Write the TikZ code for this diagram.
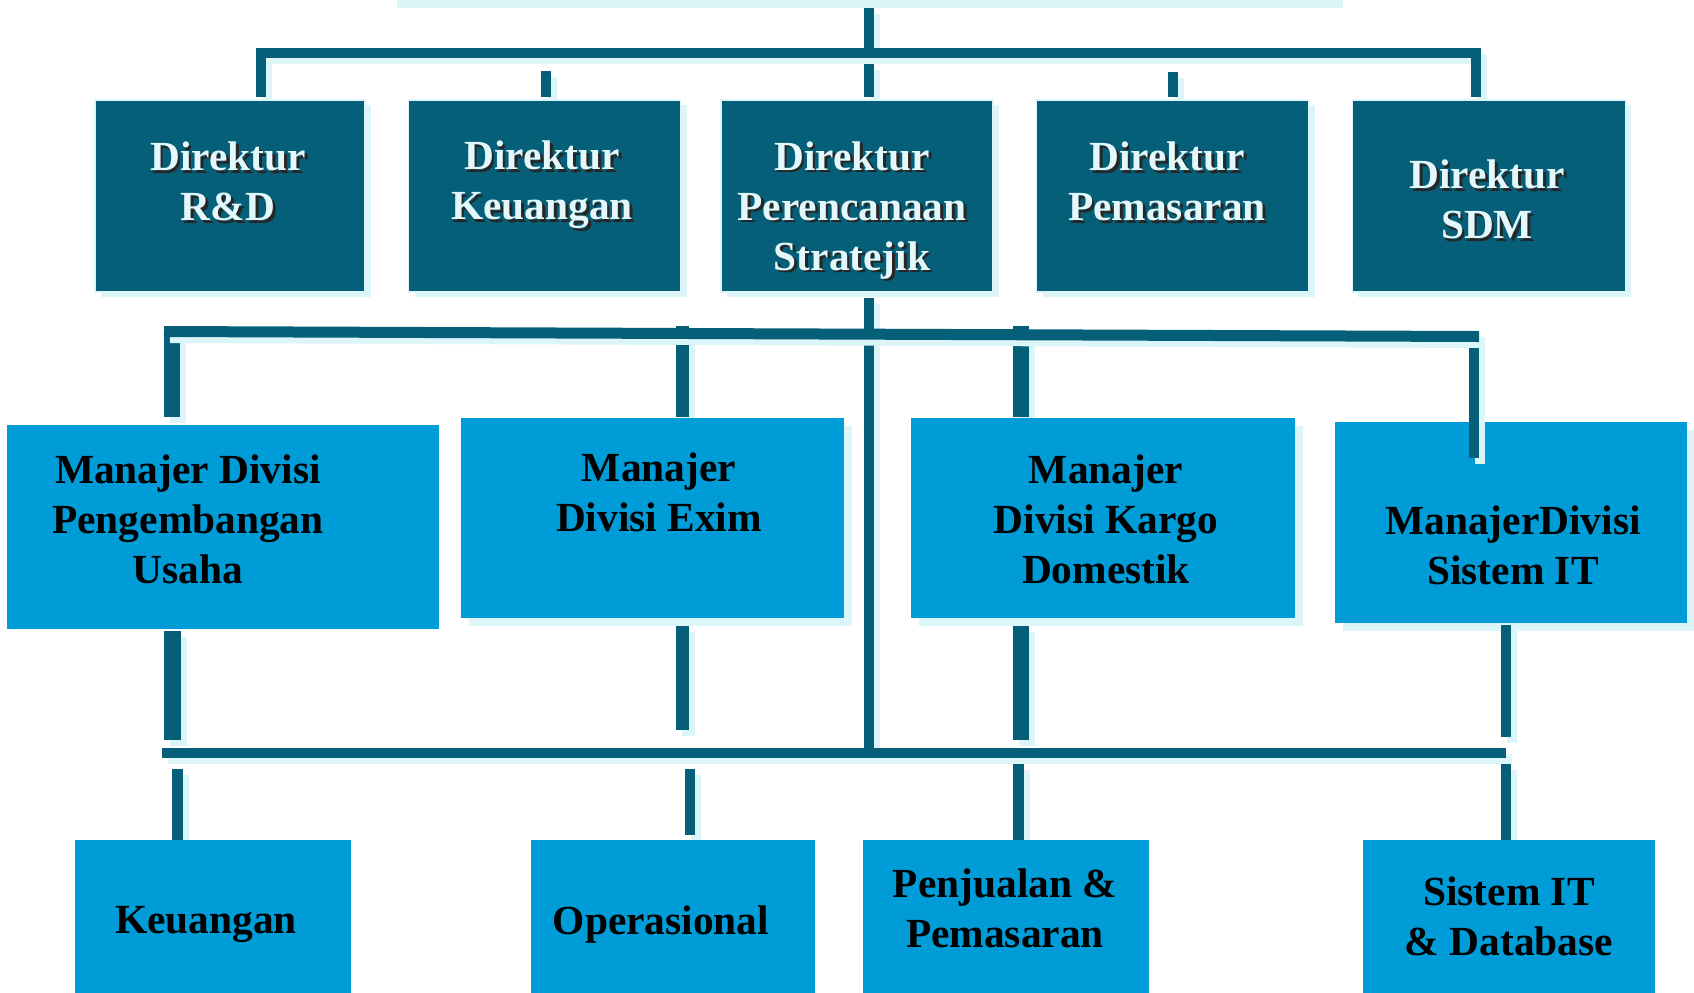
\documentclass[tikz,border=0pt]{standalone}
\usepackage{fontspec}
\setmainfont{Liberation Serif}
\usetikzlibrary{shadows}
\definecolor{dteal}{HTML}{055F79}
\definecolor{bblue}{HTML}{009CD7}
\definecolor{lcyan}{HTML}{DCF5F8}
\definecolor{ltext}{HTML}{E2F8FB}
\newcommand\shl[1]{\leavevmode\rlap{\kern1.4pt\raisebox{-1.4pt}{\color{black!85}#1}}#1}
\tikzset{
  wire/.style={draw=dteal, line width=#1, line cap=butt,
    preaction={draw=lcyan, line width=#1, transform canvas={shift={(3pt,-3pt)}}}},
  wire/.default=5pt,
  dirbox/.style={rectangle, inner sep=0pt, fill=dteal, draw=lcyan, line width=0.7pt,
    minimum height=96pt,
    drop shadow={shadow xshift=3pt, shadow yshift=-2.5pt, fill=lcyan, opacity=1}},
  mgrbox/.style={rectangle, inner sep=0pt, fill=bblue, draw=none},
  mgrshadow/.style={mgrbox, drop shadow={shadow xshift=4pt, shadow yshift=-4pt, fill=lcyan, opacity=1}},
  dirtext/.style={align=center, text=ltext, inner sep=0pt,
    font=\fontsize{20.7}{25}\selectfont\bfseries},
  blktext/.style={align=center, text=black, inner sep=0pt,
    font=\fontsize{20.7}{25}\selectfont\bfseries},
}
\begin{document}
\begin{tikzpicture}[x=0.5pt, y=-0.5pt]
\useasboundingbox (0,0) rectangle (1694,992);
\clip (0,0) rectangle (1694,992);

% remnant of top box
\fill[lcyan] (397,0) rectangle (1343,8);

% manager Sistem IT (its connector enters the box)
\node[mgrshadow, minimum width=176pt, minimum height=100.5pt] (m4) at (1511,522.5) {};

% ---- level 1 connectors
\coordinate (top) at (869,8);
\coordinate (bar1m) at (869,48);
\draw[wire] (top) -- (bar1m);
\coordinate (bar1l) at (260.5,97);
\coordinate (bar1r) at (1476,97);
\draw[wire, line join=miter] (bar1l) -- (260.5,52.5) -- (1476,52.5) -- (bar1r);
\draw[wire] (546,71) -- (546,97);
\draw[wire] (869,64) -- (869,97);
\draw[wire] (1172.5,72) -- (1172.5,97);

% ---- level 2 connectors
\draw[wire] (869,298) -- (869,748);
\draw[wire=8pt] (172,326) -- (172,417);
\draw[wire=6.5pt] (682.5,326) -- (682.5,417);
\draw[wire=8pt] (1021,326) -- (1021,417);
\draw[wire] (1474,331) -- (1474,458);
\coordinate (bar2l) at (164,331.5);
\coordinate (bar2r) at (1479,336.5);
\draw[wire=5.5pt] (bar2l) -- (bar2r);

% ---- level 3 connectors
\draw[wire=8.5pt] (172.5,631) -- (172.5,740);
\draw[wire=6.5pt] (682.5,626) -- (682.5,730);
\draw[wire=8pt] (1021,626) -- (1021,740);
\draw[wire] (1505.5,625) -- (1505.5,737);
\coordinate (bar3l) at (161.5,753);
\coordinate (bar3r) at (1505.5,753);
\draw[wire] (bar3l) -- (bar3r);
\draw[wire=5.5pt] (177.5,769) -- (177.5,840);
\draw[wire] (690,769) -- (690,835);
\draw[wire=5.5pt] (1018,764) -- (1018,840);
\draw[wire] (1505.5,764) -- (1505.5,840);

% ---- director boxes
\node[dirbox, minimum width=135pt] (d1) at (230,196) {};
\node[dirbox, minimum width=136pt] (d2) at (544.5,196) {};
\node[dirbox, minimum width=136pt] (d3) at (857,196) {};
\node[dirbox, minimum width=136pt] (d4) at (1172.7,196) {};
\node[dirbox, minimum width=136.5pt] (d5) at (1488.7,196) {};

% ---- manager boxes
\node[mgrbox, minimum width=215.75pt, minimum height=102pt] (m1) at (223,527) {};
\node[mgrshadow, minimum width=191.5pt, minimum height=100pt] (m2) at (652.5,518) {};
\node[mgrshadow, minimum width=192pt, minimum height=100pt] (m3) at (1103,518) {};

% ---- bottom boxes
\node[mgrbox, minimum width=138pt, minimum height=82pt] (b1) at (213,922) {};
\node[mgrbox, minimum width=142pt, minimum height=82pt] (b2) at (673,922) {};
\node[mgrbox, minimum width=143pt, minimum height=82pt] (b3) at (1005.8,922) {};
\node[mgrbox, minimum width=146pt, minimum height=82pt] (b4) at (1509,922) {};

% ---- texts
\node[dirtext] (t1) at (228,183) {\shl{Direktur}\\\shl{R\&D}};
\node[dirtext] (t2) at (542,186.5) {\shl{Direktur}\\\shl{Keuangan}};
\node[dirtext] (t3) at (852,211.5) {\shl{Direktur}\\\shl{Perencanaan}\\\shl{Stratejik}};
\node[dirtext] (t4) at (1167,183) {\shl{Direktur}\\\shl{Pemasaran}};
\node[dirtext] (t5) at (1487,201) {\shl{Direktur}\\\shl{SDM}};

\node[blktext] (u1) at (188,519) {Manajer Divisi\\Pengembangan\\Usaha};
\node[blktext] (u2) at (659,492) {Manajer\\Divisi Exim};
\node[blktext] (u3) at (1106,519) {Manajer\\Divisi Kargo\\Domestik};
\node[blktext] (u4) at (1513,545) {ManajerDivisi\\Sistem IT};

\node[blktext] (v1) at (206,924.5) {Keuangan};
\node[blktext] (v2) at (661,924.5) {Operasional};
\node[blktext] (v3) at (1005,908) {Penjualan \&\\Pemasaran};
\node[blktext] (v4) at (1509,916) {Sistem IT\\\& Database};
\end{tikzpicture}
\end{document}
